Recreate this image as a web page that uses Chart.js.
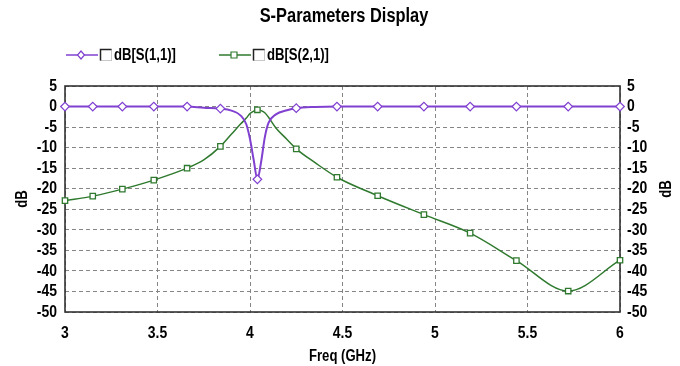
<!DOCTYPE html>
<html>
<head>
<meta charset="utf-8">
<script src="https://cdn.jsdelivr.net/npm/chart.js@4.4.1/dist/chart.umd.min.js"></script>
<style>
  html, body { margin: 0; padding: 0; background: #ffffff; }
  #wrap { width: 680px; height: 366px; position: relative; }
</style>
</head>
<body>
<div id="wrap"><canvas id="c" width="680" height="366"></canvas></div>
<script>
// ---- data ----
const chartTitle = "S-Parameters Display";
const xAxisTitle = "Freq (GHz)";
const yAxisTitle = "dB";
const seriesNames = ["dB[S(1,1)]", "dB[S(2,1)]"];

// frequency samples (GHz)
const freq = [3.00, 3.15, 3.31, 3.48, 3.66, 3.75, 3.84, 3.90, 3.95, 3.98, 4.00, 4.02, 4.04, 4.06, 4.08, 4.10, 4.14, 4.20, 4.25, 4.35, 4.47, 4.69, 4.94, 5.19, 5.44, 5.72, 6.00];
// dB[S(1,1)]
const s11 = [0.0, 0.0, 0.0, 0.0, 0.0, -0.3, -0.5, -1.0, -2.2, -4.3, -7.9, -13.0, -17.7, -13.5, -7.5, -4.0, -1.9, -0.9, -0.4, -0.1, 0.0, 0.0, 0.0, 0.0, 0.0, 0.0, 0.0];
// dB[S(2,1)]
const s21 = [-22.9, -21.8, -20.1, -17.9, -15.0, -13.0, -9.7, -6.7, -4.2, -2.8, -1.7, -1.1, -0.8, -1.0, -1.5, -2.6, -5.2, -8.0, -10.3, -13.6, -17.2, -21.7, -26.3, -30.8, -37.5, -44.9, -37.4];
// frequencies that carry a marker
const markerFreq = [3.00, 3.15, 3.31, 3.48, 3.66, 3.84, 4.04, 4.25, 4.47, 4.69, 4.94, 5.19, 5.44, 5.72, 6.00];

const xTicks = [3, 3.5, 4, 4.5, 5, 5.5, 6];
const yTicks = [5, 0, -5, -10, -15, -20, -25, -30, -35, -40, -45, -50];

// ---- styling ----
const FONT = "'Liberation Sans', Arial, sans-serif";
const CONDENSE = 0.82;          // narrow (condensed) lettering like the reference
const PURPLE = '#8040d0';
const GREEN = '#2f7a2f';
const GRID = '#858585';

const canvas = document.getElementById('c');
const ctx2d = canvas.getContext('2d');
const origFillText = ctx2d.fillText;
ctx2d.fillText = function (t, x, y) {
  this.save();
  this.translate(x, y);
  this.scale(CONDENSE, 1);
  origFillText.call(this, t, 0, 0);
  this.restore();
};

function pts(vals) { return freq.map((f, i) => ({ x: f, y: vals[i] })); }
function isMarker(ctx) {
  const f = freq[ctx.dataIndex];
  return markerFreq.some(m => Math.abs(m - f) < 1e-9);
}

const framePlugin = {
  id: 'frame',
  beforeDatasetsDraw(chart) {
    const a = chart.chartArea, c = chart.ctx;
    c.save();
    c.strokeStyle = '#333333';
    c.lineWidth = 1.6;
    c.strokeRect(a.left, a.top, a.right - a.left, a.bottom - a.top);
    c.restore();
  }
};

const decorPlugin = {
  id: 'decor',
  afterDraw(chart) {
    const c = chart.ctx;
    c.save();
    // title
    c.fillStyle = '#000';
    c.font = "bold 20px " + FONT;
    c.textAlign = 'center';
    c.textBaseline = 'middle';
    c.fillText(chartTitle, 344, 16);

    // legend
    const items = [
      { x: 66, color: PURPLE, style: 'diamond', label: seriesNames[0] },
      { x: 219, color: GREEN, style: 'square', label: seriesNames[1] }
    ];
    const y = 55;
    items.forEach(it => {
      c.strokeStyle = it.color;
      c.lineWidth = 1.5;
      c.beginPath(); c.moveTo(it.x, y); c.lineTo(it.x + 32, y); c.stroke();
      const mx = it.x + 15;
      c.fillStyle = '#fff';
      c.lineWidth = 1.2;
      c.beginPath();
      if (it.style === 'diamond') {
        c.moveTo(mx, y - 4); c.lineTo(mx + 3.5, y); c.lineTo(mx, y + 4); c.lineTo(mx - 3.5, y); c.closePath();
      } else {
        c.rect(mx - 3, y - 3, 6, 6);
      }
      c.fill(); c.stroke();
      // checkbox
      const bx = it.x + 34, by = y - 6, bs = 11;
      c.fillStyle = '#fff';
      c.fillRect(bx, by, bs, bs);
      c.strokeStyle = '#c8c8c8'; c.lineWidth = 1;
      c.strokeRect(bx + 0.5, by + 0.5, bs, bs);
      c.strokeStyle = '#222'; c.lineWidth = 1.5;
      c.beginPath(); c.moveTo(bx + 0.5, by + bs + 0.5); c.lineTo(bx + 0.5, by + 0.5); c.lineTo(bx + bs + 0.5, by + 0.5); c.stroke();
      // text
      c.fillStyle = '#000';
      c.font = "bold 16px " + FONT;
      c.textAlign = 'left';
      c.fillText(it.label, it.x + 48, y + 1);
    });

    // right axis title (same orientation as the left one)
    c.font = "bold 16px " + FONT;
    c.textAlign = 'center';
    c.translate(667, 189);
    c.rotate(-Math.PI / 2);
    c.fillText(yAxisTitle, 0, 0);
    c.restore();
  }
};

const tickFont = { family: FONT, size: 17, weight: 'bold' };

new Chart(canvas, {
  type: 'line',
  data: {
    datasets: [
      {
        label: seriesNames[0],
        data: pts(s11),
        borderColor: PURPLE,
        borderWidth: 2,
        backgroundColor: '#ffffff',
        pointStyle: 'rectRot',
        pointRadius: ctx => isMarker(ctx) ? 4.3 : 0,
        pointBorderWidth: 1.2,
        pointBorderColor: PURPLE,
        pointBackgroundColor: '#ffffff',
        cubicInterpolationMode: 'monotone',
        fill: false,
        clip: false,
        xAxisID: 'x', yAxisID: 'y'
      },
      {
        label: seriesNames[1],
        data: pts(s21),
        borderColor: GREEN,
        borderWidth: 1.5,
        backgroundColor: '#ffffff',
        pointStyle: 'rect',
        pointRadius: ctx => isMarker(ctx) ? 3.8 : 0,
        pointBorderWidth: 1.3,
        pointBorderColor: GREEN,
        pointBackgroundColor: '#ffffff',
        cubicInterpolationMode: 'monotone',
        fill: false,
        clip: false,
        xAxisID: 'x', yAxisID: 'y'
      }
    ]
  },
  options: {
    responsive: false,
    animation: false,
    events: [],
    layout: { padding: { top: 86, left: 0, right: 0, bottom: 0 } },
    plugins: {
      legend: { display: false },
      title: { display: false },
      tooltip: { enabled: false }
    },
    scales: {
      x: {
        type: 'linear',
        min: 3, max: 6,
        afterBuildTicks: s => { s.ticks = xTicks.map(v => ({ value: v })); },
        afterFit: s => { s.height = 54; },
        border: { display: false, dash: [4, 3] },
        grid: { color: GRID, lineWidth: 1, drawTicks: false },
        ticks: { font: tickFont, color: '#000', padding: 11, maxRotation: 0, autoSkip: false,
                 callback: v => String(v) },
        title: { display: true, text: xAxisTitle, color: '#000', font: { family: FONT, size: 16, weight: 'bold' }, padding: { top: 0, bottom: 0 } }
      },
      y: {
        type: 'linear', position: 'left',
        min: -50, max: 5,
        afterBuildTicks: s => { s.ticks = yTicks.map(v => ({ value: v })); },
        afterFit: s => { s.width = 65; },
        border: { display: false, dash: [4, 3] },
        grid: { color: GRID, lineWidth: 1, drawTicks: false },
        ticks: { font: tickFont, color: '#000', padding: 8, autoSkip: false, callback: v => String(v) },
        title: { display: true, text: yAxisTitle, color: '#000', font: { family: FONT, size: 16, weight: 'bold' }, padding: { top: 13, bottom: 0 } }
      },
      y2: {
        type: 'linear', position: 'right',
        min: -50, max: 5,
        afterBuildTicks: s => { s.ticks = yTicks.map(v => ({ value: v })); },
        afterFit: s => { s.width = 60; },
        border: { display: false },
        grid: { display: false, drawTicks: false },
        ticks: { font: tickFont, color: '#000', padding: 7, autoSkip: false, callback: v => String(v) }
      }
    }
  },
  plugins: [framePlugin, decorPlugin]
});
</script>
</body>
</html>
